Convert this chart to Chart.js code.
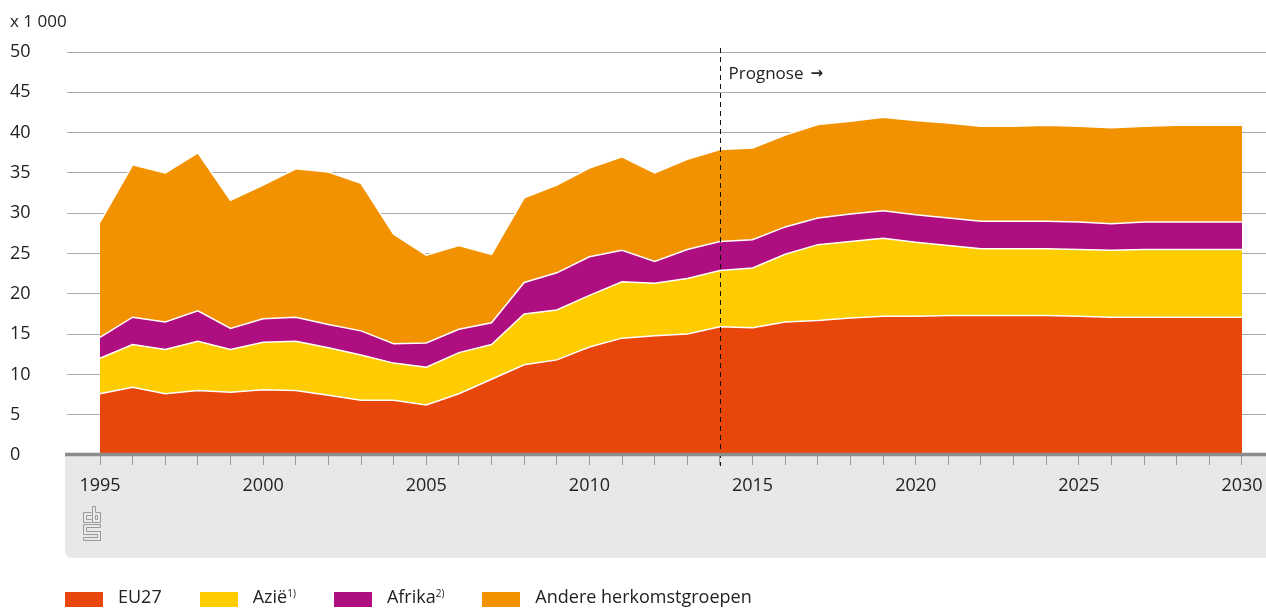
<!DOCTYPE html>
<html>
<head>
<meta charset="utf-8">
<script src="https://cdn.jsdelivr.net/npm/chart.js@4"></script>
<style>
  body { margin: 0; background: #fff; font-family: "Open Sans", sans-serif; color: #222; }
  #wrap { position: relative; width: 1266px; height: 608px; }
  #eenheid { position: absolute; left: 10px; top: 9px; font-size: 17px; }
  #legenda { position: absolute; left: 65px; top: 584px; display: flex; font-size: 18px; }
  .item { display: flex; align-items: center; margin-right: 38px; }
  .blok { width: 38px; height: 15px; margin-right: 15px; margin-top: 6px; }
  sup { font-size: 10px; vertical-align: 6px; }
</style>
</head>
<body>
<div id="wrap">
  <canvas id="grafiek" width="1266" height="608"></canvas>
  <div id="eenheid">x 1 000</div>
  <div id="legenda"></div>
</div>
<script>
// jaren en waarden (x 1 000)
var jaren = [1995, 1996, 1997, 1998, 1999, 2000, 2001, 2002, 2003, 2004, 2005, 2006,
  2007, 2008, 2009, 2010, 2011, 2012, 2013, 2014, 2015, 2016, 2017, 2018,
  2019, 2020, 2021, 2022, 2023, 2024, 2025, 2026, 2027, 2028, 2029, 2030];

var eu27 = [7.6, 8.4, 7.6, 8.0, 7.8, 8.1, 8.0, 7.4, 6.8, 6.8, 6.2, 7.6,
  9.4, 11.2, 11.8, 13.4, 14.5, 14.8, 15.0, 15.9, 15.8, 16.5, 16.7, 17.0,
  17.2, 17.2, 17.3, 17.3, 17.3, 17.3, 17.2, 17.1, 17.1, 17.1, 17.1, 17.1];

var azie = [4.4, 5.3, 5.5, 6.1, 5.3, 5.9, 6.1, 5.9, 5.6, 4.6, 4.7, 5.1,
  4.3, 6.3, 6.2, 6.4, 7.0, 6.5, 6.9, 7.0, 7.4, 8.4, 9.4, 9.5,
  9.7, 9.2, 8.7, 8.3, 8.3, 8.3, 8.3, 8.3, 8.4, 8.4, 8.4, 8.4];

var afrika = [2.6, 3.4, 3.4, 3.8, 2.6, 2.9, 3.0, 2.9, 3.0, 2.4, 3.0, 2.9,
  2.7, 3.9, 4.6, 4.8, 3.9, 2.7, 3.6, 3.6, 3.5, 3.4, 3.3, 3.4,
  3.4, 3.4, 3.4, 3.4, 3.4, 3.4, 3.4, 3.3, 3.4, 3.4, 3.4, 3.4];

var andere = [14.3, 18.9, 18.5, 19.6, 15.9, 16.6, 18.4, 18.9, 18.3, 13.6, 10.9, 10.4,
  8.5, 10.5, 10.9, 11.0, 11.6, 11.0, 11.2, 11.4, 11.4, 11.4, 11.6, 11.5,
  11.6, 11.7, 11.8, 11.8, 11.8, 11.9, 11.9, 11.9, 11.9, 12.0, 12.0, 12.0];

var yTicks = [0, 5, 10, 15, 20, 25, 30, 35, 40, 45, 50];
var prognoseJaar = 2014;

var series = [
  { naam: "EU27", sup: "", data: eu27, kleur: "#e8460b" },
  { naam: "Azië", sup: "1)", data: azie, kleur: "#ffcc00" },
  { naam: "Afrika", sup: "2)", data: afrika, kleur: "#af0e80" },
  { naam: "Andere herkomstgroepen", sup: "", data: andere, kleur: "#f39200" }
];

var datasets = series.map(function (s, i) {
  return {
    label: s.naam,
    data: s.data,
    backgroundColor: s.kleur,
    borderColor: "#ffffff",
    borderWidth: 1.5,
    pointRadius: 0,
    tension: 0,
    fill: i === 0 ? "origin" : "-1"
  };
});

// legenda
var leg = document.getElementById("legenda");
series.forEach(function (s) {
  var item = document.createElement("div");
  item.className = "item";
  item.innerHTML = "<div class='blok' style='background:" + s.kleur + "'></div>" +
    "<span>" + s.naam + (s.sup ? "<sup>" + s.sup + "</sup>" : "") + "</span>";
  leg.appendChild(item);
});

// grijze band, aslijn, logo en prognoselijn
var extra = {
  id: "extra",
  beforeDraw: function (chart) {
    var ctx = chart.ctx;
    var a = chart.chartArea;
    ctx.save();
    ctx.fillStyle = "#e8e8e8";
    ctx.beginPath();
    ctx.moveTo(65, a.bottom);
    ctx.lineTo(1266, a.bottom);
    ctx.lineTo(1266, 558);
    ctx.lineTo(73, 558);
    ctx.quadraticCurveTo(65, 558, 65, 550);
    ctx.closePath();
    ctx.fill();

    // cbs logo
    ctx.strokeStyle = "#9a9a9a";
    ctx.lineWidth = 1;
    ctx.beginPath();
    // c
    ctx.moveTo(91.5, 512.5); ctx.lineTo(83.5, 512.5); ctx.lineTo(83.5, 522.5); ctx.lineTo(91.5, 522.5);
    ctx.moveTo(91.5, 515.5); ctx.lineTo(86.5, 515.5); ctx.lineTo(86.5, 519.5); ctx.lineTo(91.5, 519.5);
    // b
    ctx.moveTo(92.5, 506.5); ctx.lineTo(92.5, 522.5); ctx.lineTo(100.5, 522.5); ctx.lineTo(100.5, 512.5); ctx.lineTo(95.5, 512.5); ctx.lineTo(95.5, 506.5); ctx.lineTo(92.5, 506.5);
    ctx.rect(95.5, 515.5, 2, 4);
    // s
    ctx.moveTo(100.5, 524.5); ctx.lineTo(83.5, 524.5); ctx.lineTo(83.5, 534.5); ctx.lineTo(97.5, 534.5); ctx.lineTo(97.5, 537.5); ctx.lineTo(83.5, 537.5); ctx.lineTo(83.5, 540.5); ctx.lineTo(100.5, 540.5); ctx.lineTo(100.5, 531.5); ctx.lineTo(86.5, 531.5); ctx.lineTo(86.5, 527.5); ctx.lineTo(100.5, 527.5); ctx.closePath();
    ctx.stroke();
    ctx.restore();
  },
  afterDatasetsDraw: function (chart) {
    var ctx = chart.ctx;
    var a = chart.chartArea;
    var x = Math.round(chart.scales.x.getPixelForValue(prognoseJaar)) + 0.5;
    ctx.save();
    ctx.strokeStyle = "#111";
    ctx.lineWidth = 1;
    ctx.setLineDash([5, 4]);
    ctx.beginPath();
    ctx.moveTo(x, 48);
    ctx.lineTo(x, a.bottom + 11);
    ctx.stroke();
    ctx.setLineDash([]);

    ctx.strokeStyle = "#8c8c8c";
    ctx.lineWidth = 3.5;
    ctx.beginPath();
    ctx.moveTo(65, a.bottom - 0.5);
    ctx.lineTo(1266, a.bottom - 0.5);
    ctx.stroke();

    ctx.fillStyle = "#222";
    ctx.font = "17px 'Open Sans'";
    ctx.textBaseline = "middle";
    ctx.fillText("Prognose", x + 8, 74);
    ctx.font = "bold 15px 'DejaVu Sans'";
    ctx.fillText("\u2192", x + 90, 74);
    ctx.restore();
  }
};

var pxJaar = (1242 - 100) / 35;

new Chart(document.getElementById("grafiek"), {
  type: "line",
  data: { labels: jaren, datasets: datasets },
  options: {
    responsive: false,
    animation: false,
    layout: { padding: { top: 52, left: 10, right: 0, bottom: 50 } },
    plugins: { legend: { display: false }, tooltip: { enabled: false } },
    scales: {
      x: {
        type: "linear",
        min: 1995 - 33 / pxJaar,
        max: 2030 + 24 / pxJaar,
        afterBuildTicks: function (scale) {
          scale.ticks = jaren.map(function (j) { return { value: j }; });
        },
        afterFit: function (scale) {
          scale.height = 103;
          scale.paddingLeft = 0;
          scale.paddingRight = 0;
        },
        border: { display: false },
        grid: { drawOnChartArea: false, drawTicks: true, tickLength: 10, color: "#9a9a9a", lineWidth: 1 },
        ticks: {
          autoSkip: false,
          maxRotation: 0,
          padding: 10,
          color: "#222",
          font: { family: "Open Sans", size: 18 },
          callback: function (v) { return v % 5 === 0 ? String(v) : ""; }
        }
      },
      y: {
        stacked: true,
        min: 0,
        max: 50,
        afterBuildTicks: function (scale) {
          scale.ticks = yTicks.map(function (v) { return { value: v }; });
        },
        afterFit: function (scale) { scale.width = 57; },
        border: { display: false },
        grid: { drawTicks: false, color: "#ababab", lineWidth: 1 },
        ticks: {
          crossAlign: "far",
          padding: 0,
          color: "#222",
          font: { family: "Open Sans", size: 18 }
        }
      }
    }
  },
  plugins: [extra]
});
</script>
</body>
</html>
